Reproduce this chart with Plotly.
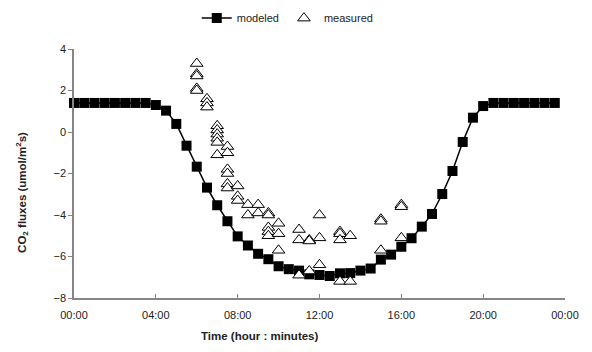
import plotly.graph_objects as go

# Modeled CO2 flux, half-hourly from 00:00 to 24:00 (hours)
model_hours = [i * 0.5 for i in range(49)]
model_flux = [
    1.4, 1.4, 1.4, 1.4, 1.4, 1.4, 1.4, 1.4,          # 00:00-03:30
    1.30, 1.03, 0.39, -0.66, -1.67, -2.68, -3.53,    # 04:00-07:00
    -4.30, -5.03, -5.47, -5.87, -6.13, -6.47, -6.61, # 07:30-10:30
    -6.68, -6.86, -6.89, -6.94, -6.81, -6.80, -6.68, # 11:00-14:00
    -6.58, -6.15, -5.91, -5.53, -5.12, -4.56, -3.95, # 14:30-17:30
    -2.99, -1.88, -0.48, 0.69, 1.25,                 # 18:00-20:30
    1.4, 1.4, 1.4, 1.4, 1.4, 1.4, 1.4,               # 21:00-24:00
]

# Measured CO2 flux (chamber readings), grouped by sampling time
meas_hours = (
    [6.0] * 5 + [6.5] * 3 + [7.0] * 6 + [7.5] * 6 + [8.0] * 3 + [8.5] * 2 +
    [9.0] * 2 + [9.5] * 5 + [10.0] * 3 + [11.0] * 3 + [11.5] * 3 +
    [12.0] * 3 + [13.0] * 4 + [13.5] * 2 + [15.0] * 3 + [16.0] * 3
)
meas_flux = [
    3.3, 2.8, 2.7, 2.1, 2.0,
    1.6, 1.4, 1.2,
    0.3, 0.1, -0.1, -0.3, -0.5, -1.1,
    -0.7, -1.0, -1.8, -2.0, -2.5, -2.7,
    -2.6, -3.1, -3.3,
    -3.5, -4.0,
    -3.5, -3.9,
    -3.9, -4.0, -4.6, -4.8, -5.0,
    -4.4, -4.9, -5.7,
    -4.7, -5.2, -6.9,
    -5.2, -5.25, -6.7,
    -4.0, -5.1, -6.4,
    -4.8, -4.9, -5.2, -7.2,
    -5.0, -7.2,
    -4.2, -4.3, -5.7,
    -3.5, -3.6, -5.1,
]

x_tick_vals = [0, 4, 8, 12, 16, 20, 24]
x_tick_text = ["00:00", "04:00", "08:00", "12:00", "16:00", "20:00", "00:00"]
y_tick_vals = [4, 2, 0, -2, -4, -6, -8]

font_family = "Liberation Sans, Arial, sans-serif"
text_color = "#222222"
axis_color = "#868686"

fig = go.Figure()

fig.add_trace(go.Scatter(
    x=model_hours, y=model_flux, name="modeled",
    mode="lines+markers",
    line=dict(color="black", width=1.5),
    marker=dict(symbol="square", size=10, color="black"),
    cliponaxis=False,
))

fig.add_trace(go.Scatter(
    x=meas_hours, y=meas_flux, name="measured",
    mode="markers",
    marker=dict(symbol="triangle-up", size=11, color="white",
                line=dict(color="black", width=1)),
    cliponaxis=False,
))

fig.update_layout(
    width=592, height=352,
    margin=dict(l=74, r=27, t=49, b=54, autoexpand=False),
    paper_bgcolor="white", plot_bgcolor="white",
    font=dict(family=font_family, size=11, color=text_color),
    showlegend=True,
    legend=dict(
        orientation="h", x=0.25, xanchor="left", y=1.124, yanchor="middle",
        font=dict(size=11, color=text_color),
        itemwidth=30, tracegroupgap=0,
    ),
    annotations=[
        dict(text="<b>Time (hour : minutes)</b>",
             xref="paper", yref="paper", x=0.255, y=-0.153,
             xanchor="left", yanchor="middle", showarrow=False,
             font=dict(size=11.5, color=text_color)),
        dict(text="<b>CO<sub>2</sub> fluxes (umol/m<sup>2</sup>s)</b>",
             xref="paper", yref="paper", x=-0.106, y=0.426,
             xanchor="center", yanchor="middle", textangle=-90,
             showarrow=False, font=dict(size=11.5, color=text_color)),
    ],
)

fig.update_xaxes(
    range=[0, 24], tickvals=x_tick_vals, ticktext=x_tick_text,
    showgrid=False, zeroline=False,
    showline=True, linecolor=axis_color, linewidth=1.5,
    ticks="inside", ticklen=4, tickcolor=axis_color,
    ticklabelstandoff=6,
    tickfont=dict(size=11, color=text_color),
)

fig.update_yaxes(
    range=[-8, 4], tickvals=y_tick_vals,
    showgrid=False, zeroline=False,
    showline=True, linecolor=axis_color, linewidth=1.5,
    ticks="outside", ticklen=4, tickcolor=axis_color,
    tickfont=dict(size=11, color=text_color),
)

fig.write_html("out.html")
